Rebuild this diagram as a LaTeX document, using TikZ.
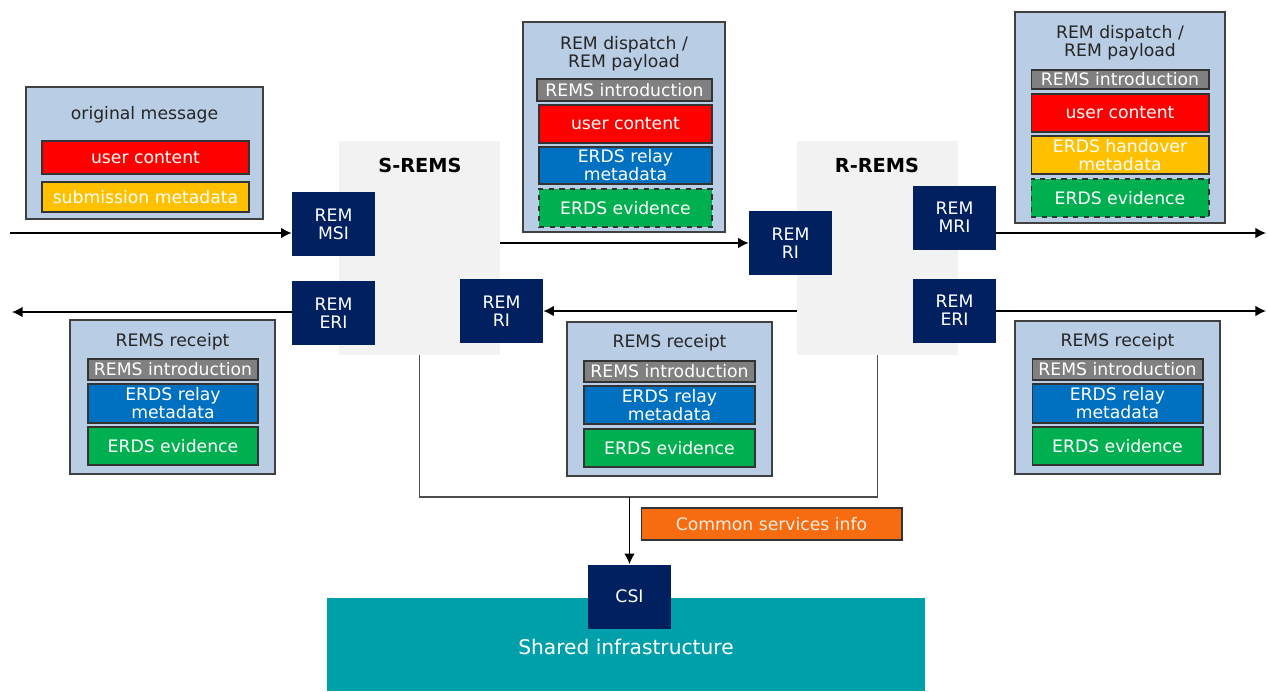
\documentclass[tikz,border=0pt]{standalone}
\usepackage{fontspec}
\setmainfont{DejaVu Sans}
\usetikzlibrary{arrows.meta, positioning}

\definecolor{paleblue}{RGB}{185,205,229}
\definecolor{navy}{RGB}{0,32,96}
\definecolor{lightgrey}{RGB}{242,242,242}
\definecolor{ucred}{RGB}{255,0,0}
\definecolor{amber}{RGB}{255,192,0}
\definecolor{relayblue}{RGB}{0,112,192}
\definecolor{evgreen}{RGB}{0,176,80}
\definecolor{introgrey}{RGB}{128,128,128}
\definecolor{csorange}{RGB}{247,108,16}
\definecolor{sharedteal}{RGB}{0,160,170}

\tikzset{
  frame/.style={draw=black!75, fill=paleblue, line width=0.8pt, inner sep=0pt},
  title/.style={text=black!85, align=center},
  layer/.style={draw=black!80, line width=0.6pt, text=white, align=center, inner sep=0pt},
  intro/.style={layer, fill=introgrey},
  content/.style={layer, fill=ucred},
  subm/.style={layer, fill=amber},
  relay/.style={layer, fill=relayblue},
  evidence/.style={layer, fill=evgreen},
  rems/.style={fill=lightgrey, minimum width=3.22cm, minimum height=4.28cm, inner sep=0pt},
  iface/.style={fill=navy, text=white, align=center, inner sep=0pt,
    minimum width=1.66cm, minimum height=1.28cm},
  link/.style={line width=0.8pt, -{Latex[length=6pt,width=6pt]}},
  bus/.style={line width=0.8pt, draw=black!70},
}

\begin{document}
\begin{tikzpicture}[x=0.02cm, y=-0.02cm, font=\fontsize{9.8}{10.3}\selectfont]
\useasboundingbox (0,0) rectangle (1268,691);

% REMS areas
\node[rems] (srems) at (419.5,248) {};
\node[font=\fontsize{11}{13}\selectfont\bfseries] (sremslabel) at (420,165) {S-REMS};
\node[rems] (rrems) at (877.5,248) {};
\node[font=\fontsize{11}{13}\selectfont\bfseries] (rremslabel) at (877,165) {R-REMS};

% original message
\node[frame, minimum width=4.74cm, minimum height=2.64cm] (orig) at (144.5,153) {};
\node[title] (origtitle) at (144.5,115) {original message};
\node[content, minimum width=4.14cm, minimum height=0.66cm] (origcontent) at (145.5,157.5) {user content};
\node[subm, minimum width=4.14cm, minimum height=0.60cm] (origsubm) at (145.5,197) {submission metadata};

% REM dispatch (sender side)
\node[frame, minimum width=4.04cm, minimum height=4.20cm] (sdisp) at (624,127) {};
\node[title] (sdisptitle) at (624,54) {REM dispatch /\\REM payload};
\node[intro, minimum width=3.50cm, minimum height=0.44cm] (sdispintro) at (624.5,90) {REMS introduction};
\node[content, minimum width=3.46cm, minimum height=0.76cm] (sdispcontent) at (625.5,124) {user content};
\node[relay, minimum width=3.46cm, minimum height=0.74cm] (sdisprelay) at (625.5,165.5) {ERDS relay\\metadata};
\node[evidence, dashed, minimum width=3.46cm, minimum height=0.76cm] (sdispev) at (625.5,208) {ERDS evidence};

% REM dispatch (recipient side)
\node[frame, minimum width=4.20cm, minimum height=4.22cm] (rdisp) at (1120,117.5) {};
\node[title] (rdisptitle) at (1120,42.5) {REM dispatch /\\REM payload};
\node[intro, minimum width=3.56cm, minimum height=0.38cm] (rdispintro) at (1120,79.5) {REMS introduction};
\node[content, minimum width=3.56cm, minimum height=0.76cm] (rdispcontent) at (1120,113) {user content};
\node[subm, minimum width=3.56cm, minimum height=0.76cm] (rdisphand) at (1120,155) {ERDS handover\\metadata};
\node[evidence, dashed, minimum width=3.56cm, minimum height=0.76cm] (rdispev) at (1120,198) {ERDS evidence};

% REMS receipts
\node[frame, minimum width=4.10cm, minimum height=3.08cm] (lrec) at (172.5,397) {};
\node[title] (lrectitle) at (172.5,342) {REMS receipt};
\node[intro, minimum width=3.40cm, minimum height=0.42cm] (lrecintro) at (173,369.5) {REMS introduction};
\node[relay, minimum width=3.40cm, minimum height=0.78cm] (lrecrelay) at (173,403.5) {ERDS relay\\metadata};
\node[evidence, minimum width=3.40cm, minimum height=0.76cm] (lrecev) at (173,446) {ERDS evidence};

\node[frame, minimum width=4.10cm, minimum height=3.08cm] (mrec) at (669.5,399) {};
\node[title] (mrectitle) at (669.5,343) {REMS receipt};
\node[intro, minimum width=3.42cm, minimum height=0.42cm] (mrecintro) at (669.5,371.5) {REMS introduction};
\node[relay, minimum width=3.42cm, minimum height=0.76cm] (mrecrelay) at (669.5,405) {ERDS relay\\metadata};
\node[evidence, minimum width=3.42cm, minimum height=0.76cm] (mrecev) at (669.5,448) {ERDS evidence};

\node[frame, minimum width=4.10cm, minimum height=3.06cm] (rrec) at (1117.5,397.5) {};
\node[title] (rrectitle) at (1117.5,342) {REMS receipt};
\node[intro, minimum width=3.42cm, minimum height=0.42cm] (rrecintro) at (1117.5,369.5) {REMS introduction};
\node[relay, minimum width=3.42cm, minimum height=0.78cm] (rrecrelay) at (1117.5,403.5) {ERDS relay\\metadata};
\node[evidence, minimum width=3.42cm, minimum height=0.76cm] (rrecev) at (1117.5,446) {ERDS evidence};

% interfaces
\node[iface] (msi) at (333.5,224) {REM\\MSI};
\node[iface] (seri) at (333.5,313) {REM\\ERI};
\node[iface] (sri) at (501.5,311) {REM\\RI};
\node[iface] (rri) at (790.5,243) {REM\\RI};
\node[iface] (mri) at (954.5,217.5) {REM\\MRI};
\node[iface] (reri) at (954.5,310.5) {REM\\ERI};

% shared infrastructure
\node[fill=sharedteal, minimum width=11.96cm, minimum height=1.86cm] (shared) at (626,644.5) {};
\node[text=white, font=\fontsize{11.5}{13}\selectfont] (sharedlabel) at (626,647) {Shared infrastructure};
\node[iface] (csi) at (629.5,596.5) {CSI};
\node[draw=black!80, line width=0.6pt, fill=csorange, text=white!88!csorange,
  minimum width=5.22cm, minimum height=0.64cm, inner sep=0pt] (csinfo) at (771.5,524) {Common services info};

% connectors
\coordinate (inleft) at (10,233);
\coordinate (outleft) at (12,312);
\coordinate (outtop) at (1266,233);
\coordinate (outbot) at (1266,311);
\coordinate (busmid) at (629.5,497);

\draw[link] (inleft) -- (inleft -| msi.west);
\draw[link] (seri.west |- outleft) -- (outleft);
\draw[link] (rri.west -| srems.east) -- (rri.west);
\draw[link] (sri.east -| rrems.west) -- (sri.east);
\draw[link] (mri.east |- outtop) -- (outtop);
\draw[link] (reri.east |- outbot) -- (outbot);

\draw[bus] (srems.south) |- (busmid) -| (rrems.south);
\draw[link] (busmid) -- (csi.north);

\end{tikzpicture}
\end{document}
